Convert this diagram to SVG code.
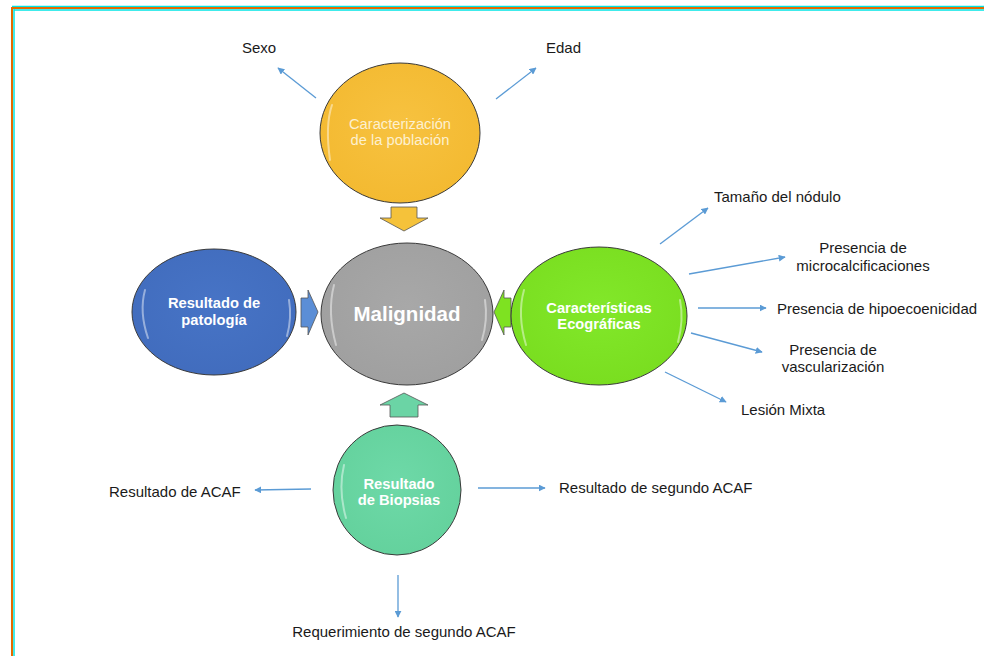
<svg xmlns="http://www.w3.org/2000/svg" width="984" height="656" viewBox="0 0 984 656">
<defs>
<style>
.lbl{font-family:"Liberation Sans",Arial,sans-serif;font-size:15px;fill:#1a1a1a}
.nt{font-family:"Liberation Sans",Arial,sans-serif;font-size:14.7px;fill:#ffffff;text-anchor:middle;font-weight:bold}
.ln{stroke:#5b9bd5;stroke-width:1.3;fill:none;marker-end:url(#ah)}
.node{stroke:#3a3a3a;stroke-width:1}
.hl{fill:none;stroke:#ffffff;stroke-opacity:0.45;stroke-width:2;stroke-linecap:round}
.blk{stroke:#555;stroke-width:0.8}
</style>
<marker id="ah" viewBox="0 0 10 10" refX="9" refY="5" markerWidth="7" markerHeight="7" orient="auto" markerUnits="userSpaceOnUse">
<path d="M0,0 L10,5 L0,10 z" fill="#5b9bd5"/>
</marker>
<radialGradient id="gY" cx="50%" cy="45%" r="60%"><stop offset="0" stop-color="#f7c240"/><stop offset="1" stop-color="#f3b930"/></radialGradient>
<radialGradient id="gG" cx="50%" cy="45%" r="60%"><stop offset="0" stop-color="#a8a8a8"/><stop offset="1" stop-color="#9f9f9f"/></radialGradient>
<radialGradient id="gB" cx="50%" cy="45%" r="60%"><stop offset="0" stop-color="#4774c6"/><stop offset="1" stop-color="#416cbd"/></radialGradient>
<radialGradient id="gL" cx="50%" cy="45%" r="60%"><stop offset="0" stop-color="#82e82a"/><stop offset="1" stop-color="#79dd1f"/></radialGradient>
<radialGradient id="gT" cx="50%" cy="45%" r="60%"><stop offset="0" stop-color="#6ed9a8"/><stop offset="1" stop-color="#63d19c"/></radialGradient>
</defs>
<rect width="984" height="656" fill="#ffffff"/>
<g id="frame">
<line x1="12" y1="6.5" x2="984" y2="6.5" stroke="#00e5e5" stroke-width="1.5"/>
<line x1="11" y1="8" x2="984" y2="8" stroke="#e56a00" stroke-width="2"/>
<line x1="14" y1="10" x2="984" y2="10" stroke="#00e5e5" stroke-width="1.5"/>
<line x1="12" y1="7" x2="12" y2="656" stroke="#e56a00" stroke-width="2"/>
<line x1="14" y1="9" x2="14" y2="656" stroke="#00e5e5" stroke-width="1.5"/>
</g>
<g id="connectors">
<line class="ln" x1="316" y1="98" x2="278" y2="68"/>
<line class="ln" x1="496" y1="99" x2="536" y2="68"/>
<line class="ln" x1="660" y1="244" x2="708" y2="208"/>
<line class="ln" x1="689" y1="274" x2="785" y2="257"/>
<line class="ln" x1="698" y1="308" x2="766" y2="308"/>
<line class="ln" x1="691" y1="333" x2="762" y2="352"/>
<line class="ln" x1="665" y1="372" x2="726" y2="402"/>
<line class="ln" x1="311" y1="489" x2="255" y2="490"/>
<line class="ln" x1="478" y1="488" x2="545" y2="488"/>
<line class="ln" x1="398" y1="575" x2="398" y2="617"/>
</g>
<g id="block-arrows">
<path class="blk" d="M391,207 H417 V218 H428 L404,231 L380,218 H391 Z" fill="#f5c23a"/>
<path class="blk" d="M301,298 H308 V290 L318,312 L308,335 V327 H301 Z" fill="#5b8ed6"/>
<path class="blk" d="M511,298 H504 V290 L494,312 L504,335 V327 H511 Z" fill="#7ee221"/>
<path class="blk" d="M390,417 H418 V405 H428 L404,393 L380,405 H390 Z" fill="#6bd4a5"/>
</g>
<g id="node-caracterizacion">
<ellipse class="node" cx="400" cy="133" rx="80" ry="70" fill="url(#gY)"/>
<path class="hl" d="M332,105 Q325,125 330,160"/>
<text class="nt" x="400" y="129" style="font-weight:normal;fill:#fdf0cf">Caracterización</text>
<text class="nt" x="400" y="145" style="font-weight:normal;fill:#fdf0cf">de la población</text>
</g>
<g id="node-malignidad">
<ellipse class="node" cx="407" cy="314" rx="86" ry="71" fill="url(#gG)"/>
<path class="hl" d="M334,285 Q327,312 336,345"/>
<path class="hl" d="M485,300 Q488,320 482,340" stroke-width="1.5"/>
<text class="nt" x="407" y="321" style="font-size:20.5px">Malignidad</text>
</g>
<g id="node-patologia">
<ellipse class="node" cx="214" cy="312" rx="82" ry="63" fill="url(#gB)"/>
<path class="hl" d="M145,290 Q139,312 148,338"/>
<path class="hl" d="M289,300 Q292,318 287,336" stroke-width="1.5"/>
<text class="nt" x="214" y="308">Resultado de</text>
<text class="nt" x="214" y="325">patología</text>
</g>
<g id="node-ecograficas">
<ellipse class="node" cx="599" cy="316" rx="88" ry="69" fill="url(#gL)"/>
<path class="hl" d="M524,290 Q517,315 526,345"/>
<path class="hl" d="M680,300 Q684,320 678,342" stroke-width="1.5"/>
<text class="nt" x="599" y="313">Características</text>
<text class="nt" x="599" y="329">Ecográficas</text>
</g>
<g id="node-biopsias">
<ellipse class="node" cx="397" cy="490" rx="64" ry="65" fill="url(#gT)"/>
<path class="hl" d="M344,465 Q338,490 346,518"/>
<text class="nt" x="399" y="489">Resultado</text>
<text class="nt" x="399" y="505">de Biopsias</text>
</g>
<g id="labels">
<text class="lbl" x="242" y="53">Sexo</text>
<text class="lbl" x="546" y="53">Edad</text>
<text class="lbl" x="714" y="202">Tamaño del nódulo</text>
<text class="lbl" x="863" y="253" text-anchor="middle">Presencia de</text>
<text class="lbl" x="863" y="271" text-anchor="middle">microcalcificaciones</text>
<text class="lbl" x="777" y="314">Presencia de hipoecoenicidad</text>
<text class="lbl" x="833" y="355" text-anchor="middle">Presencia de</text>
<text class="lbl" x="833" y="372" text-anchor="middle">vascularización</text>
<text class="lbl" x="741" y="415">Lesión Mixta</text>
<text class="lbl" x="109" y="497">Resultado de ACAF</text>
<text class="lbl" x="559" y="493">Resultado de segundo ACAF</text>
<text class="lbl" x="404" y="637" text-anchor="middle">Requerimiento de segundo ACAF</text>
</g>
</svg>
